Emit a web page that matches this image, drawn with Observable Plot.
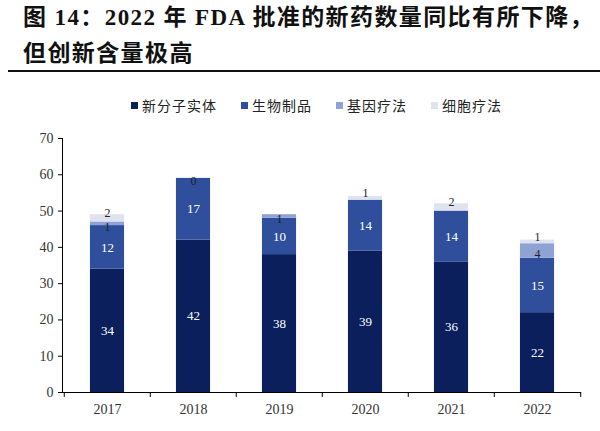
<!DOCTYPE html>
<html>
<head>
<meta charset="utf-8">
<script src="https://cdn.jsdelivr.net/npm/d3@7"></script>
<script src="https://cdn.jsdelivr.net/npm/@observablehq/plot@0.6"></script>
<style>
  html, body { margin: 0; padding: 0; background: #fff; }
  #page { position: relative; width: 600px; height: 431px; overflow: hidden; background: #fff; }
  #title { position: absolute; left: 23px; top: 0px; font-family: "Liberation Serif", "Noto Sans CJK SC", serif; font-weight: 700; font-size: 23px; letter-spacing: 1.4px; line-height: 36px; color: #111; white-space: nowrap; }
  #rule { position: absolute; left: 8px; right: 0; top: 70px; height: 2px; background: #111; }
  #legend { position: absolute; left: 131px; top: 96px; display: flex; gap: 24px; font-family: "Noto Sans CJK SC", sans-serif; font-size: 14px; color: #222; line-height: 18px; }
  #legend .item { display: flex; align-items: center; gap: 4px; letter-spacing: 1px; }
  #legend .sw { width: 7px; height: 7px; display: inline-block; }
  #chart { position: absolute; left: 0; top: 120px; }
</style>
</head>
<body>
<div id="page">
  <div id="title">图 14：2022 年 FDA 批准的新药数量同比有所下降，<br>但创新含量极高</div>
  <div id="rule"></div>
  <div id="legend"></div>
  <div id="chart"></div>
</div>
<script>
const years = ["2017", "2018", "2019", "2020", "2021", "2022"];
const seriesNames = ["新分子实体", "生物制品", "基因疗法", "细胞疗法"];
const nme  = [34, 42, 38, 39, 36, 22];
const bio  = [12, 17, 10, 14, 14, 15];
const gene = [1, 0, 1, null, null, 4];
const cell = [2, null, null, 1, 2, 1];
const colors = ["#0a1f5c", "#2f4f9c", "#8fa2d4", "#dfe3ef"];
const labelColors = ["#ffffff", "#ffffff", "#222222", "#222222"];
const labelDy = [0, 0, 3, -5];
const yTicks = [0, 10, 20, 30, 40, 50, 60, 70];

const seriesValues = [nme, bio, gene, cell];
const rows = [];
years.forEach((yr, i) => {
  seriesValues.forEach((arr, s) => {
    rows.push({year: yr, series: seriesNames[s], s, value: arr[i], v: arr[i] == null ? 0 : arr[i]});
  });
});

// legend
const legend = document.getElementById("legend");
seriesNames.forEach((n, i) => {
  const it = document.createElement("div");
  it.className = "item";
  const sw = document.createElement("span");
  sw.className = "sw";
  sw.style.background = colors[i];
  const t = document.createElement("span");
  t.textContent = n;
  it.appendChild(sw); it.appendChild(t);
  legend.appendChild(it);
});

const W = 600, H = 311, ML = 62, MR = 19, MT = 18, MB = 39;
const step = (W - ML - MR) / years.length;
const inset = step * 0.3;

const textMarks = [0, 1, 2, 3].map(s => Plot.text(rows, Plot.stackY({
  x: "year", y: "v", z: "series",
  text: d => (d.s === s && d.value != null) ? String(d.value) : "",
  fill: labelColors[s],
  dy: labelDy[s],
  fontSize: s < 2 ? 13 : 12
})));

const chart = Plot.plot({
  width: W, height: H,
  marginLeft: ML, marginRight: MR, marginTop: MT, marginBottom: MB,
  style: { fontFamily: "'Liberation Serif', 'Times New Roman', serif", fontSize: "14px", color: "#333", background: "#fff" },
  x: { domain: years, padding: 0, axis: null },
  y: { domain: [0, 70], axis: null },
  marks: [
    Plot.barY(rows, Plot.stackY({
      x: "year", y: "v", z: "series",
      fill: d => colors[d.s],
      insetLeft: inset, insetRight: inset
    })),
    ...textMarks,
    Plot.axisY({ ticks: yTicks, tickSize: 4, tickPadding: 5, label: null, fontSize: 14, stroke: "#000" }),
    Plot.frame({ anchor: "left", stroke: "#000" }),
    Plot.ruleY([0], { stroke: "#000", strokeWidth: 1.2 }),
    Plot.axisX({ tickSize: 0, tickPadding: 12, label: null, fontSize: 14 }),
    Plot.axisX({ tickSize: 5, tickFormat: () => "", label: null, dx: -step / 2, stroke: "#000" }),
    Plot.axisX({ ticks: [years[years.length - 1]], tickSize: 5, tickFormat: () => "", label: null, dx: step / 2, stroke: "#000" })
  ]
});
document.getElementById("chart").appendChild(chart);
</script>
</body>
</html>
